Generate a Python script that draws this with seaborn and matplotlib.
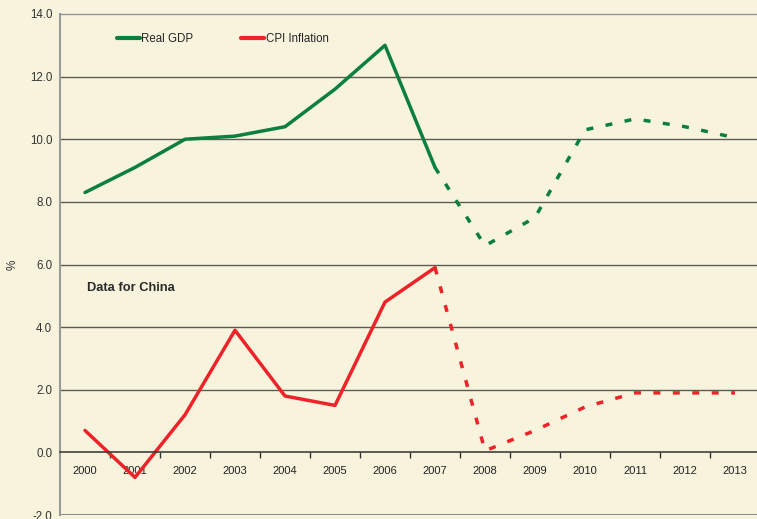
import matplotlib
matplotlib.use("Agg")
import matplotlib.pyplot as plt
import seaborn as sns
import pandas as pd
import numpy as np
from matplotlib.ticker import FixedLocator

years = ["2000", "2001", "2002", "2003", "2004", "2005", "2006",
         "2007", "2008", "2009", "2010", "2011", "2012", "2013"]
gdp = [8.3, 9.1, 10.0, 10.1, 10.4, 11.6, 13.0, 9.1, 6.6, 7.5, 10.3, 10.65, 10.4, 10.05]
cpi = [0.7, -0.8, 1.2, 3.9, 1.8, 1.5, 4.8, 5.9, 0.05, 0.7, 1.45, 1.9, 1.9, 1.9]
split = 7  # last actual year index (2007); later years are forecasts
yticks = [-2.0, 0.0, 2.0, 4.0, 6.0, 8.0, 10.0, 12.0, 14.0]

GREEN = "#0b7f3f"
RED = "#ee2229"
BG = "#f8f3dc"

sns.set_theme(style="white")
plt.rcParams["font.family"] = ["Liberation Sans", "DejaVu Sans"]

fig = plt.figure(figsize=(7.57, 5.19), dpi=100, facecolor=BG)
ax = fig.add_axes([60 / 757, 4 / 519, 700 / 757, 501 / 519])
ax.set_facecolor(BG)

idx = np.arange(len(years))
df = pd.DataFrame({"x": idx, "gdp": gdp, "cpi": cpi})
act = df[df.x <= split]
fc = df[df.x >= split]

lw = 2.5
dash = (0, (2.0, 3.6))
sns.lineplot(data=act, x="x", y="gdp", ax=ax, color=GREEN, lw=lw, label="Real GDP")
sns.lineplot(data=fc, x="x", y="gdp", ax=ax, color=GREEN, lw=lw, ls=dash)
sns.lineplot(data=act, x="x", y="cpi", ax=ax, color=RED, lw=lw, label="CPI Inflation")
sns.lineplot(data=fc, x="x", y="cpi", ax=ax, color=RED, lw=lw, ls=dash)

ax.set_xlim(-0.5, len(years) - 0.5)
ax.set_ylim(-2, 14)
ax.set_yticks(yticks)
ax.set_yticklabels([f"{v:.1f}" for v in yticks])
ax.tick_params(axis="y", length=0, pad=5.5, labelsize=8.3, labelcolor="#333333")

ax.set_xticks(idx)
ax.set_xticklabels(years)
ax.xaxis.set_minor_locator(FixedLocator(idx[:-1] + 0.5))
ax.tick_params(axis="x", which="major", length=0, pad=10, labelsize=8, labelcolor="#222222")
ax.tick_params(axis="x", which="minor", length=4, width=1, color="#333333",
               direction="out", bottom=True)

ax.set_xlabel("")
ax.set_ylabel("%", fontsize=8.5, color="#333333", labelpad=8)

for y in [2, 4, 6, 8, 10, 12]:
    ax.axhline(y, color="#5c5c52", lw=1.0, zorder=0)
ax.axhline(-2, color="#8e9096", lw=1.5, zorder=0)

ax.spines["bottom"].set_position(("data", 0))
ax.spines["bottom"].set_color("#3e3e3a")
ax.spines["bottom"].set_linewidth(1.2)
ax.spines["top"].set_color("#9095a0")
ax.spines["top"].set_linewidth(1.0)
ax.spines["left"].set_color("#9a9a9a")
ax.spines["left"].set_linewidth(1.5)
ax.spines["right"].set_visible(False)

leg = ax.legend(loc="upper left", bbox_to_anchor=(0.066, 0.983), ncol=2, frameon=False,
                fontsize=8.3, handlelength=2.0, handletextpad=0.15, columnspacing=4.1)
for h in leg.get_lines():
    h.set_linewidth(3.0)

ax.text(0.039, 0.454, "Data for China", transform=ax.transAxes, fontsize=9.3,
        fontweight="bold", color="#2a2a2a", va="center")

fig.savefig("out.png", dpi=100, facecolor=BG)
